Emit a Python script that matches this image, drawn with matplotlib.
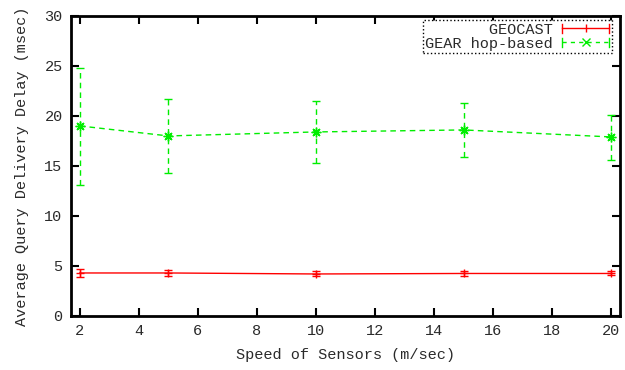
import matplotlib
matplotlib.use('Agg')
import matplotlib.pyplot as plt
from matplotlib.lines import Line2D
from matplotlib.legend_handler import HandlerBase

plt.rcParams['font.family'] = ['Liberation Mono', 'DejaVu Sans Mono']
plt.rcParams['font.size'] = 11
plt.rcParams['text.color'] = '#2a2a2a'
plt.rcParams['axes.labelcolor'] = '#2a2a2a'
plt.rcParams['xtick.labelcolor'] = '#2a2a2a'
plt.rcParams['ytick.labelcolor'] = '#2a2a2a'

speed = [2, 5, 10, 15, 20]

geocast = [4.3, 4.3, 4.2, 4.25, 4.25]
geocast_err = [0.4, 0.3, 0.25, 0.25, 0.2]

gear = [19.0, 18.0, 18.4, 18.6, 17.9]
gear_lo = [13.1, 14.25, 15.3, 15.9, 15.6]
gear_hi = [24.8, 21.7, 21.5, 21.3, 20.1]

red = '#ff0000'
green = '#00ee00'


class GnuErrHandler(HandlerBase):
    # line with end caps and a marker in the middle, like gnuplot's errorlines key
    def __init__(self, color, ls, marker, ms):
        super().__init__()
        self.color, self.ls, self.marker, self.ms = color, ls, marker, ms

    def create_artists(self, legend, orig, xd, yd, w, h, fs, trans):
        y = h / 2 - yd
        x0, x1 = -xd, w - xd
        c = h * 0.4
        arts = [
            Line2D([x0, x1], [y, y], color=self.color, ls=self.ls, lw=1),
            Line2D([x0, x0], [y - c, y + c], color=self.color, lw=1),
            Line2D([x1, x1], [y - c, y + c], color=self.color, lw=1),
            Line2D([(x0 + x1) / 2], [y], color=self.color, marker=self.marker,
                   ms=self.ms, mew=1, ls='none'),
        ]
        for a in arts:
            a.set_transform(trans)
        return arts


fig = plt.figure(figsize=(6.25, 3.7), dpi=100)
ax = fig.add_axes([0.1136, 0.146, 0.8784, 0.811])

ax.errorbar(speed, geocast, yerr=geocast_err, color=red, lw=1,
            marker='+', ms=6, mew=1, capsize=3, elinewidth=1, capthick=1)

gear_err = [[m - lo for m, lo in zip(gear, gear_lo)],
            [hi - m for m, hi in zip(gear, gear_hi)]]
eb = ax.errorbar(speed, gear, yerr=gear_err, color=green, lw=1, ls='--',
                 dashes=(4, 3), marker=(8, 2, 0), ms=7, mew=1,
                 capsize=3, elinewidth=1, capthick=1)
eb[2][0].set_linestyle((0, (4, 3)))

ax.set_xlim(1.7, 20.3)
ax.set_ylim(0, 30)
ax.set_xticks(range(2, 21, 2))
ax.set_yticks(range(0, 31, 5))
ax.tick_params(direction='in', top=True, right=True, length=6, width=1.5, pad=6)
for s in ax.spines.values():
    s.set_linewidth(2)

ax.set_xlabel('Speed of Sensors (m/sec)', labelpad=7)
ax.set_ylabel('Average Query Delivery Delay (msec)', labelpad=11)

h1 = Line2D([], [])
h2 = Line2D([], [])
leg = ax.legend([h1, h2], ['       GEOCAST', 'GEAR hop-based'],
                handler_map={h1: GnuErrHandler(red, '-', '|', 6),
                             h2: GnuErrHandler(green, (0, (3, 3)), 'x', 6)},
                loc='upper right', bbox_to_anchor=(0.985, 0.985),
                markerfirst=False, fancybox=False, framealpha=1,
                handlelength=3.1, handletextpad=0.6, borderpad=0.15,
                labelspacing=0.0, borderaxespad=0)
leg.get_frame().set_edgecolor('black')
leg.get_frame().set_linestyle(':')
leg.get_frame().set_linewidth(1)

fig.savefig('out.png', dpi=100)
